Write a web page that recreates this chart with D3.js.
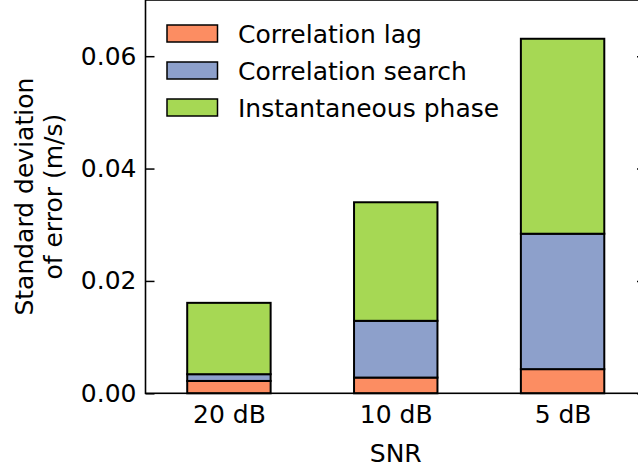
<!DOCTYPE html>
<html>
<head>
<meta charset="utf-8">
<script src="https://cdn.jsdelivr.net/npm/d3@7"></script>
<style>
  html, body { margin: 0; padding: 0; background: #fff; }
  svg { display: block; font-family: "DejaVu Sans", sans-serif; }
</style>
</head>
<body>
<svg id="chart" width="638" height="470"></svg>
<script>
// SNR conditions along the x axis
const categories = ["20 dB", "10 dB", "5 dB"];
// Error contribution of each method (m/s), stacked per condition
const seriesNames = ["Correlation lag", "Correlation search", "Instantaneous phase"];
const corrLag = [0.0022, 0.0028, 0.0043];
const corrSearch = [0.0012, 0.0101, 0.0241];
const instPhase = [0.0127, 0.0211, 0.0347];
const colors = ["#fc8d62", "#8da0cb", "#a6d854"];
const yTicks = [0.00, 0.02, 0.04, 0.06];

const rows = categories.map((c, i) => ({
  cat: c,
  [seriesNames[0]]: corrLag[i],
  [seriesNames[1]]: corrSearch[i],
  [seriesNames[2]]: instPhase[i]
}));

const svg = d3.select("#chart");
const plotL = 145.5, plotR = 646, plotT = 0, plotB = 393.3;

const x = d3.scaleLinear().domain([-0.5, categories.length - 0.5]).range([plotL, plotR]);
const y = d3.scaleLinear().domain([0, 0.07]).range([plotB, plotT]);
const barW = x(0.5) - x(0);

const stacked = d3.stack().keys(seriesNames)(rows);

const g = svg.append("g");
stacked.forEach((layer, li) => {
  g.selectAll(null).data(layer).enter().append("rect")
    .attr("x", (d, i) => x(i) - barW / 2)
    .attr("width", barW)
    .attr("y", d => y(d[1]))
    .attr("height", d => y(d[0]) - y(d[1]))
    .attr("fill", colors[li])
    .attr("stroke", "#000")
    .attr("stroke-width", 2);
});

// Frame
svg.append("rect")
  .attr("x", plotL).attr("y", plotT)
  .attr("width", plotR - plotL).attr("height", plotB - plotT)
  .attr("fill", "none").attr("stroke", "#000").attr("stroke-width", 1.6);

const fs = 25;

// Left axis, ticks pointing inward
const yAxis = d3.axisLeft(y).tickValues(yTicks).tickFormat(d3.format(".2f"))
  .tickSizeInner(-9).tickSizeOuter(0).tickPadding(9);
const ya = svg.append("g").attr("transform", `translate(${plotL},0)`).call(yAxis);
ya.select(".domain").remove();
ya.selectAll(".tick line").attr("stroke", "#000").attr("stroke-width", 1.5);
ya.selectAll(".tick text").attr("font-size", fs).attr("fill", "#000")
  .attr("font-family", "DejaVu Sans").attr("x", -9);

// Mirrored ticks on the right spine
const yAxisR = d3.axisRight(y).tickValues(yTicks).tickFormat("")
  .tickSizeInner(-9).tickSizeOuter(0);
const yr = svg.append("g").attr("transform", `translate(${plotR},0)`).call(yAxisR);
yr.select(".domain").remove();
yr.selectAll(".tick line").attr("stroke", "#000").attr("stroke-width", 1.5);

// Category labels under the bars
const xAxis = d3.axisBottom(x).tickValues(d3.range(categories.length))
  .tickFormat(i => categories[i]).tickSize(0).tickPadding(0);
const xa = svg.append("g").attr("transform", `translate(0,${plotB})`).call(xAxis);
xa.select(".domain").remove();
xa.selectAll(".tick text").attr("font-size", fs).attr("fill", "#000")
  .attr("font-family", "DejaVu Sans").attr("dy", null).attr("y", 30);

// Axis titles
svg.append("text").attr("x", x(1)).attr("y", 462)
  .attr("text-anchor", "middle").attr("font-size", fs).text("SNR");

const yt = svg.append("text")
  .attr("transform", `translate(0,${(plotT + plotB) / 2}) rotate(-90)`)
  .attr("text-anchor", "middle").attr("font-size", fs);
yt.append("tspan").attr("x", 0).attr("y", 33).text("Standard deviation");
yt.append("tspan").attr("x", 0).attr("y", 62).text("of error (m/s)");

// Legend
const lg = svg.append("g");
const legY = [33.5, 70.5, 107.5];
seriesNames.forEach((n, i) => {
  lg.append("rect").attr("x", 167).attr("y", legY[i] - 8.5)
    .attr("width", 50.5).attr("height", 17)
    .attr("fill", colors[i]).attr("stroke", "#000").attr("stroke-width", 1.5);
  lg.append("text").attr("x", 238).attr("y", legY[i] + 9)
    .attr("font-size", fs).attr("fill", "#000").text(n);
});
</script>
</body>
</html>
